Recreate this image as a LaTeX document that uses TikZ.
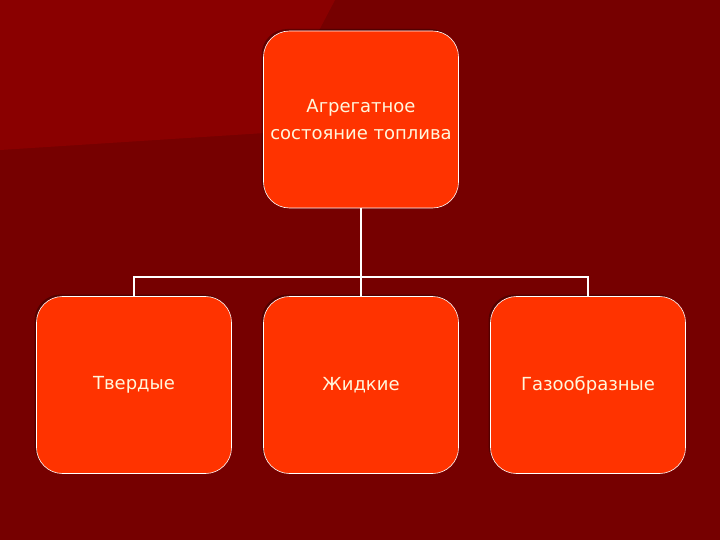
\documentclass[tikz,border=0pt]{standalone}
\usepackage{fontspec}
\setmainfont{DejaVu Sans}
\usetikzlibrary{shadows}
\definecolor{bgdark}{HTML}{760000}
\definecolor{bglight}{HTML}{8A0000}
\definecolor{boxfill}{HTML}{FF3300}
\definecolor{txt}{HTML}{FFF6DC}
\begin{document}
\begin{tikzpicture}[x=1pt,y=-1pt,
  box/.style={draw=white,line width=0.6pt,fill=boxfill,rounded corners=26pt,
    minimum width=195pt,minimum height=177pt,inner sep=0pt,
    general shadow={shadow xshift=-2pt,shadow yshift=2pt,fill=black,opacity=0.3},
    text=txt,font=\fontsize{18}{27}\selectfont,align=center},
  link/.style={draw=white,line width=1.5pt}]
\useasboundingbox (0,0) rectangle (720,540);
\fill[bgdark] (0,0) rectangle (720,540);
\fill[bglight] (0,0) -- (335,0) -- (265,133) -- (0,150) -- cycle;
\node[box] (top) at (361,119.5) {Агрегатное\\состояние топлива};
\node[box] (solid) at (134,385) {Твердые};
\node[box] (liquid) at (361,385) {Жидкие};
\node[box] (gas) at (588,385) {Газообразные};
\coordinate (j) at (361,277);
\draw[link] (top.south) -- (liquid.north);
\draw[link] (solid.north) |- (j) -| (gas.north);
\end{tikzpicture}
\end{document}
